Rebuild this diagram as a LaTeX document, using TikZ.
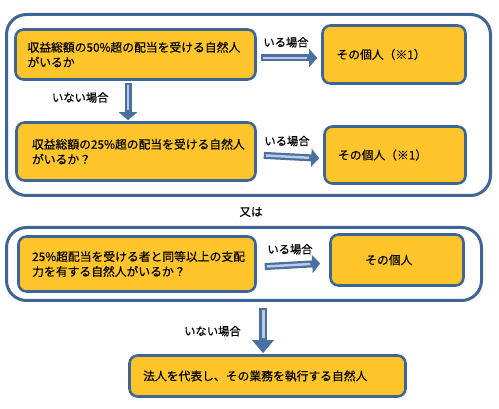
\documentclass[tikz,border=0pt]{standalone}
\usepackage{fontspec}
\setmainfont{Noto Sans CJK JP}[FakeBold=0.5]
\usepackage{xcolor}
\usepackage{tikz}
\usetikzlibrary{arrows.meta}
\usetikzlibrary{positioning}
\definecolor{boxfill}{HTML}{FFC52A}
\definecolor{boxline}{HTML}{3F6596}
\definecolor{arrowline}{HTML}{4A70A2}
\definecolor{arrowcore}{HTML}{BCCBDF}

\begin{document}
\begin{tikzpicture}[x=1pt, y=-1pt,
    frame/.style={draw=boxline, line width=3pt, rounded corners=20pt, fill=white, inner sep=0pt},
    qbox/.style={draw=boxline, fill=boxfill, line width=2.6pt, rounded corners=8pt, align=left,
                 inner ysep=0pt, font=\fontsize{11.8}{15}\selectfont},
    flow/.style={draw=arrowline, line width=7pt, -{Triangle[length=8pt,width=18pt]}},
    flowbig/.style={draw=arrowline, line width=8.5pt, -{Triangle[length=13pt,width=21pt]}},
    flowcore/.style={draw=arrowcore, line width=2.5pt},
    lbl/.style={font=\fontsize{11.3}{13}\selectfont, inner sep=1pt}]
    \useasboundingbox (0,0) rectangle (499,409);

    % outer frames
    \node[frame, minimum width=484pt, minimum height=181pt] (frameOne) at (248.5,105) {};
    \node[frame, minimum width=475pt, minimum height=73pt] (frameTwo) at (244,264) {};

    % question and answer boxes
    \node[qbox, minimum height=50pt, inner xsep=12pt, text width=216pt] (qFifty) at (135.5,54.5)
        {収益総額の50\%超の配当を受ける自然人\\がいるか};
    \node[qbox, minimum height=58pt, inner xsep=14pt, text width=115pt] (ansFifty) at (394,54.5)
        {その個人（※1）};
    \node[qbox, minimum height=58pt, inner xsep=15.5pt, text width=208pt] (qQuarter) at (136,151.5)
        {収益総額の25\%超の配当を受ける自然人\\がいるか？};
    \node[qbox, minimum height=57pt, inner xsep=13.5pt, text width=114pt] (ansQuarter) at (395,155)
        {その個人（※1）};
    \node[qbox, minimum height=55pt, inner xsep=13.7pt, text width=209.6pt] (qControl) at (137,264)
        {25\%超配当を受ける者と同等以上の支配\\力を有する自然人がいるか？};
    \node[qbox, minimum height=51pt, inner xsep=34.7pt, text width=63.6pt] (ansControl) at (397,260)
        {その個人};
    \node[qbox, minimum height=41pt, inner xsep=13.7pt, text width=248.6pt] (rep) at (267.5,376)
        {法人を代表し、その業務を執行する自然人};

    \node[font=\fontsize{11.5}{13}\selectfont] (orText) at (251,212) {又は};

    % block arrows
    \draw[flow, shorten <=4pt, shorten >=4pt] ([yshift=-3.5pt]qFifty.east) -- ([yshift=-3.5pt]ansFifty.west)
        node[lbl, midway, above=6pt, xshift=-3pt] {いる場合};
    \draw[flowcore, shorten <=6pt, shorten >=14pt] ([yshift=-3.5pt]qFifty.east) -- ([yshift=-3.5pt]ansFifty.west);

    \draw[flow, shorten <=7pt, shorten >=4pt] ([yshift=-3.5pt]qQuarter.east) -- ([yshift=-3.5pt]ansQuarter.west)
        node[lbl, midway, above=6pt, xshift=-3pt] {いる場合};
    \draw[flowcore, shorten <=9pt, shorten >=14pt] ([yshift=-3.5pt]qQuarter.east) -- ([yshift=-3.5pt]ansQuarter.west);

    \draw[flow, shorten <=8pt, shorten >=9pt] ([yshift=-3pt]qControl.east) -- ([yshift=-3pt]ansControl.west)
        node[lbl, midway, above=6pt, xshift=-3pt] {いる場合};
    \draw[flowcore, shorten <=10pt, shorten >=19pt] ([yshift=-3pt]qControl.east) -- ([yshift=-3pt]ansControl.west);

    \draw[flow, shorten <=2pt, shorten >=1pt] ([xshift=-7.5pt]qFifty.south) -- ([xshift=-7.5pt]qFifty.south |- qQuarter.north)
        node[lbl, midway, left=15pt, yshift=3.5pt] {いない場合};
    \draw[flowcore, shorten <=4pt, shorten >=11pt] ([xshift=-7.5pt]qFifty.south) -- ([xshift=-7.5pt]qFifty.south |- qQuarter.north);

    \draw[flowbig, shorten <=6pt, shorten >=1pt] ([xshift=19pt]frameTwo.south) -- ([xshift=19pt]frameTwo.south |- rep.north)
        node[lbl, midway, left=17pt, yshift=-3pt] {いない場合};
    \draw[flowcore, line width=3pt, shorten <=8pt, shorten >=16pt] ([xshift=19pt]frameTwo.south) -- ([xshift=19pt]frameTwo.south |- rep.north);
\end{tikzpicture}
\end{document}
